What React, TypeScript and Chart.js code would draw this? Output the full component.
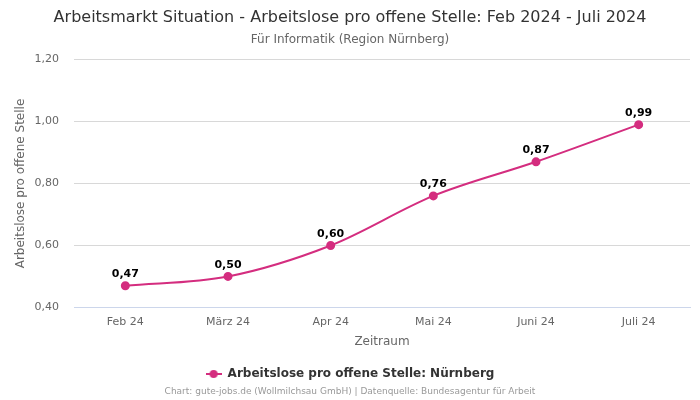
import React, { useEffect, useRef } from "react";
import { Chart, registerables } from "chart.js";

Chart.register(...registerables);

const categories = ["Feb 24", "März 24", "Apr 24", "Mai 24", "Juni 24", "Juli 24"];
const values = [0.47, 0.5, 0.6, 0.76, 0.87, 0.99];
const seriesName = "Arbeitslose pro offene Stelle: Nürnberg";
const titleText = "Arbeitsmarkt Situation - Arbeitslose pro offene Stelle: Feb 2024 - Juli 2024";
const subtitleText = "Für Informatik (Region Nürnberg)";
const footerText = "Chart: gute-jobs.de (Wollmilchsau GmbH) | Datenquelle: Bundesagentur für Arbeit";
const yTitle = "Arbeitslose pro offene Stelle";
const xTitle = "Zeitraum";

const FONT = "'DejaVu Sans', sans-serif";
const COLOR = "#d42d7f";

const fmt = (v: number) => v.toFixed(2).replace(".", ",");

const extras = {
  id: "extras",
  afterDatasetsDraw(chart: any) {
    const ctx = chart.ctx;
    const meta = chart.getDatasetMeta(0);
    ctx.save();
    ctx.font = `bold 11px ${FONT}`;
    ctx.fillStyle = "#000";
    ctx.textAlign = "center";
    ctx.textBaseline = "bottom";
    meta.data.forEach((pt: any, i: number) => {
      ctx.fillText(fmt(values[i]), pt.x, pt.y - 6);
    });
    ctx.restore();
  },
  afterDraw(chart: any) {
    const ctx = chart.ctx;
    ctx.save();
    ctx.font = `9px ${FONT}`;
    ctx.fillStyle = "#999";
    ctx.textAlign = "center";
    ctx.textBaseline = "middle";
    ctx.fillText(footerText, chart.width / 2, 392);
    ctx.restore();
  },
};

function makeMarker() {
  const c = document.createElement("canvas");
  c.width = 16;
  c.height = 10;
  const g = c.getContext("2d")!;
  g.strokeStyle = COLOR;
  g.lineWidth = 2;
  g.beginPath();
  g.moveTo(0, 5);
  g.lineTo(16, 5);
  g.stroke();
  g.fillStyle = COLOR;
  g.beginPath();
  g.arc(8, 5, 4, 0, Math.PI * 2);
  g.fill();
  return c;
}

export default function App() {
  const ref = useRef<HTMLCanvasElement>(null);
  useEffect(() => {
    document.body.style.margin = "0";
    const marker = makeMarker();
    const chart = new Chart(ref.current!, {
      type: "line",
      data: {
        labels: categories,
        datasets: [
          {
            label: seriesName,
            data: values,
            borderColor: COLOR,
            backgroundColor: COLOR,
            borderWidth: 2,
            pointRadius: 3.5,
            pointHoverRadius: 3.5,
            pointBackgroundColor: COLOR,
            pointBorderColor: COLOR,
            tension: 0.4,
            cubicInterpolationMode: "monotone",
          },
        ],
      },
      options: {
        animation: false,
        responsive: false,
        layout: { padding: { left: 10, right: 10, bottom: 10, top: 0 } },
        plugins: {
          title: {
            display: true,
            text: titleText,
            color: "#333",
            font: { family: FONT, size: 16, weight: "normal" },
            padding: { top: 8, bottom: 5 },
          },
          subtitle: {
            display: true,
            text: subtitleText,
            color: "#666",
            font: { family: FONT, size: 12, weight: "normal" },
            padding: { top: 0, bottom: 13 },
          },
          legend: {
            position: "bottom",
            labels: {
              usePointStyle: true,
              pointStyle: marker as any,
              pointStyleWidth: 16,
              boxHeight: 10,
              color: "#333",
              font: { family: FONT, size: 12, weight: "bold" },
              padding: 19,
            },
          },
          tooltip: { enabled: false },
        },
        scales: {
          x: {
            offset: true,
            grid: { display: false, drawTicks: false },
            border: { color: "#ccd6eb" },
            ticks: { color: "#666", font: { family: FONT, size: 11 }, padding: 8 },
            title: { display: true, text: xTitle, color: "#666", font: { family: FONT, size: 12 }, padding: { top: -2, bottom: 0 } },
          },
          y: {
            min: 0.4,
            max: 1.2,
            afterFit: (scale: any) => {
              scale.width = 64;
            },
            grid: { color: "#d8d8d8", drawTicks: false },
            border: { display: false },
            ticks: {
              stepSize: 0.2,
              color: "#666",
              font: { family: FONT, size: 11 },
              padding: 15,
              callback: (v: any) => fmt(Number(v)),
            },
            title: { display: true, text: yTitle, color: "#666", font: { family: FONT, size: 12 }, padding: { top: 4, bottom: 0 } },
          },
        },
      },
      plugins: [extras],
    });
    return () => chart.destroy();
  }, []);
  return (
    <div style={{ width: 700, height: 400 }}>
      <canvas ref={ref} width={700} height={400} style={{ width: 700, height: 400 }} />
    </div>
  );
}
